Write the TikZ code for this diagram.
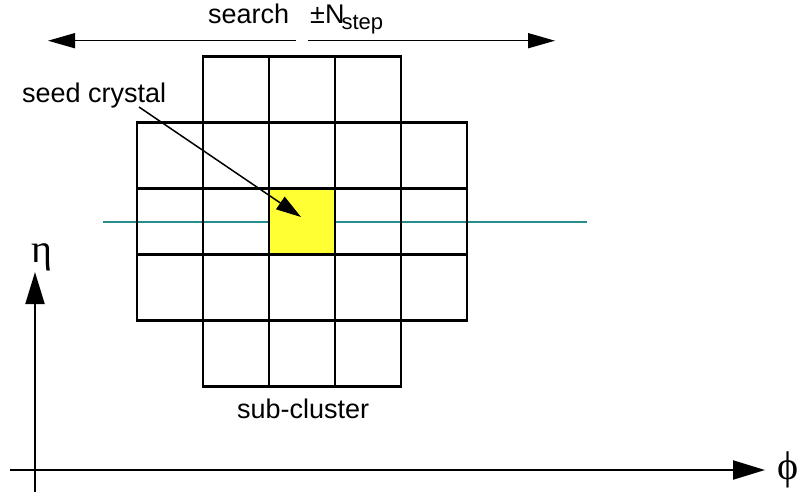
\documentclass[tikz,border=0pt]{standalone}
\usepackage{fontspec}
\setmainfont{Liberation Sans}
\newfontfamily\greekfont{Liberation Serif}
\usetikzlibrary{arrows.meta}
\definecolor{axisteal}{RGB}{38,140,140}
\definecolor{seedyellow}{RGB}{255,255,51}
\begin{document}
\begin{tikzpicture}[x=1pt,y=-1pt,
  cell/.style={draw=black,line width=2.4pt,minimum size=66pt,inner sep=0pt},
  seedcell/.style={cell,fill=seedyellow},
  lbl/.style={font=\fontsize{27}{30}\selectfont,inner sep=0pt},
  greeklbl/.style={font=\greekfont\fontsize{40}{42}\selectfont,inner sep=0pt},
  toparrow/.style={line width=1.5pt,-{Triangle[length=27pt,width=15pt]}},
  seedarrow/.style={line width=1.5pt,-{Triangle[length=25pt,width=15pt]}},
  axisarrow/.style={line width=2.2pt,-{Triangle[length=32pt,width=19pt]}},
  tealline/.style={draw=axisteal,line width=2.4pt}]
\useasboundingbox (0,0) rectangle (803,493);

% teal line behind the grid
\coordinate (tealL) at (103,222);
\coordinate (tealR) at (587,222);
\draw[tealline] (tealL) -- (tealR);

% grid cells
\foreach \i/\j in {1/0,2/0,3/0,
                   0/1,1/1,2/1,3/1,4/1,
                   0/2,1/2,3/2,4/2,
                   0/3,1/3,2/3,3/3,4/3,
                   1/4,2/4,3/4}{
  \node[cell] (c\i\j) at ({137+66*\i+33},{56.5+66*\j+33}) {};
}
\node[seedcell] (seed) at ({137+66*2+33},{56.5+66*2+33}) {};

% top search arrows
\node[lbl,anchor=base west] (search) at (208,23) {search};
\node[lbl,anchor=base west] (nstep) at (310,23) {±N\kern-3pt\raisebox{-6pt}{\fontsize{22}{22}\selectfont step}};
\coordinate (midL) at (296,40.7);
\coordinate (tipL) at (48,40.7);
\coordinate (midR) at (308,40.7);
\coordinate (tipR) at (555,40.7);
\draw[toparrow] (midL) -- (tipL);
\draw[toparrow] (midR) -- (tipR);

% seed crystal label and arrow
\node[lbl,anchor=base west] (seedlbl) at (22,102) {seed crystal};
\coordinate (seedstart) at (139,107);
\coordinate (seedtip) at (301,217);
\draw[seedarrow] (seedstart) -- (seedtip);

% sub-cluster label
\node[lbl,anchor=base west] (sub) at (237,418) {sub-cluster};

% axes
\node[greeklbl] (eta) at (42,257) {η};
\node[greeklbl] (phi) at (788,470) {\char"03D5};
\coordinate (vbot) at (35,492);
\coordinate (vtip) at (35,272);
\coordinate (hleft) at (10,470);
\coordinate (htip) at (765,470);
\draw[axisarrow] (vbot) -- (vtip);
\draw[axisarrow] (hleft) -- (htip);
\end{tikzpicture}
\end{document}
